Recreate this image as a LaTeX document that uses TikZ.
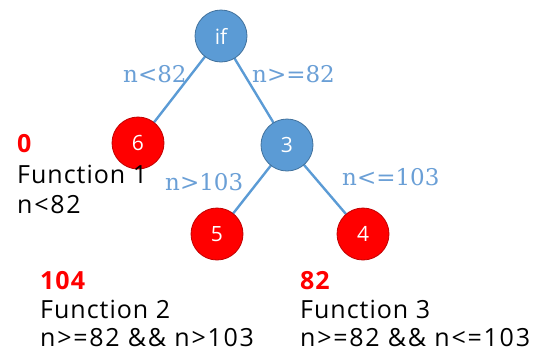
\documentclass[tikz,border=0pt]{standalone}
\usepackage{fontspec}
\setmainfont{Open Sans}
\newfontfamily\txtfont[LetterSpace=4]{Open Sans}
\newfontfamily\optfont[LetterSpace=7]{Open Sans}
\newfontfamily\lblfont{DejaVu Serif}
\definecolor{nblue}{HTML}{5B9BD5}
\definecolor{nblueb}{HTML}{41719C}
\definecolor{nred}{HTML}{FF0000}
\definecolor{nredb}{HTML}{C00000}
\definecolor{lblue}{HTML}{6A9FD6}
\begin{document}
\begin{tikzpicture}[x=1pt,y=-1pt,
  bnode/.style={circle,fill=nblue,draw=nblueb,line width=0.8pt,minimum size=52pt,inner sep=0pt,text=white,font=\fontsize{21}{24}\selectfont},
  rnode/.style={circle,fill=nred,draw=nredb,line width=0.8pt,minimum size=52pt,inner sep=0pt,text=white,font=\fontsize{21}{24}\selectfont},
  edge/.style={draw=nblue,line width=2.4pt},
  elabel/.style={text=lblue,font=\lblfont\fontsize{23}{26}\selectfont,anchor=base west,inner sep=0pt},
  tnum/.style={text=nred,font=\txtfont\bfseries\fontsize{25}{28}\selectfont,anchor=base west,inner sep=0pt},
  ttext/.style={text=black,font=\txtfont\fontsize{25}{28}\selectfont,anchor=base west,inner sep=0pt},
  ctext/.style={text=black,font=\optfont\fontsize{25}{28}\selectfont,anchor=base west,inner sep=0pt}]
\useasboundingbox (0,0) rectangle (538,354);
\coordinate (cif) at (221,36);
\coordinate (c6) at (138,143);
\coordinate (c3) at (287,145);
\coordinate (c5) at (217,234);
\coordinate (c4) at (363,234);
\draw[edge] (cif) -- (c6);
\draw[edge] (cif) -- (c3);
\draw[edge] (c3) -- (c5);
\draw[edge] (c3) -- (c4);
\node[bnode] (nif) at (cif) {if};
\node[rnode] (n6) at (c6) {6};
\node[bnode] (n3) at (c3) {3};
\node[rnode] (n5) at (c5) {5};
\node[rnode] (n4) at (c4) {4};
\node[elabel] (l1) at (123,82) {n<82};
\node[elabel] (l2) at (252,82) {n>=82};
\node[elabel] (l3) at (165,190) {n>103};
\node[elabel] (l4) at (342,185) {n<=103};
\node[tnum] (a0) at (17,152) {0};
\node[ttext] (a1) at (17,183) {Function 1};
\node[ctext] (a2) at (17,213) {n<82};
\node[tnum] (b0) at (40,289) {104};
\node[ttext] (b1) at (40,318) {Function 2};
\node[ctext] (b2) at (40,346) {n>=82 \&\& n>103};
\node[tnum] (c0) at (300,289) {82};
\node[ttext] (c1) at (300,318) {Function 3};
\node[ctext] (c2) at (300,346) {n>=82 \&\& n<=103};
\end{tikzpicture}
\end{document}
